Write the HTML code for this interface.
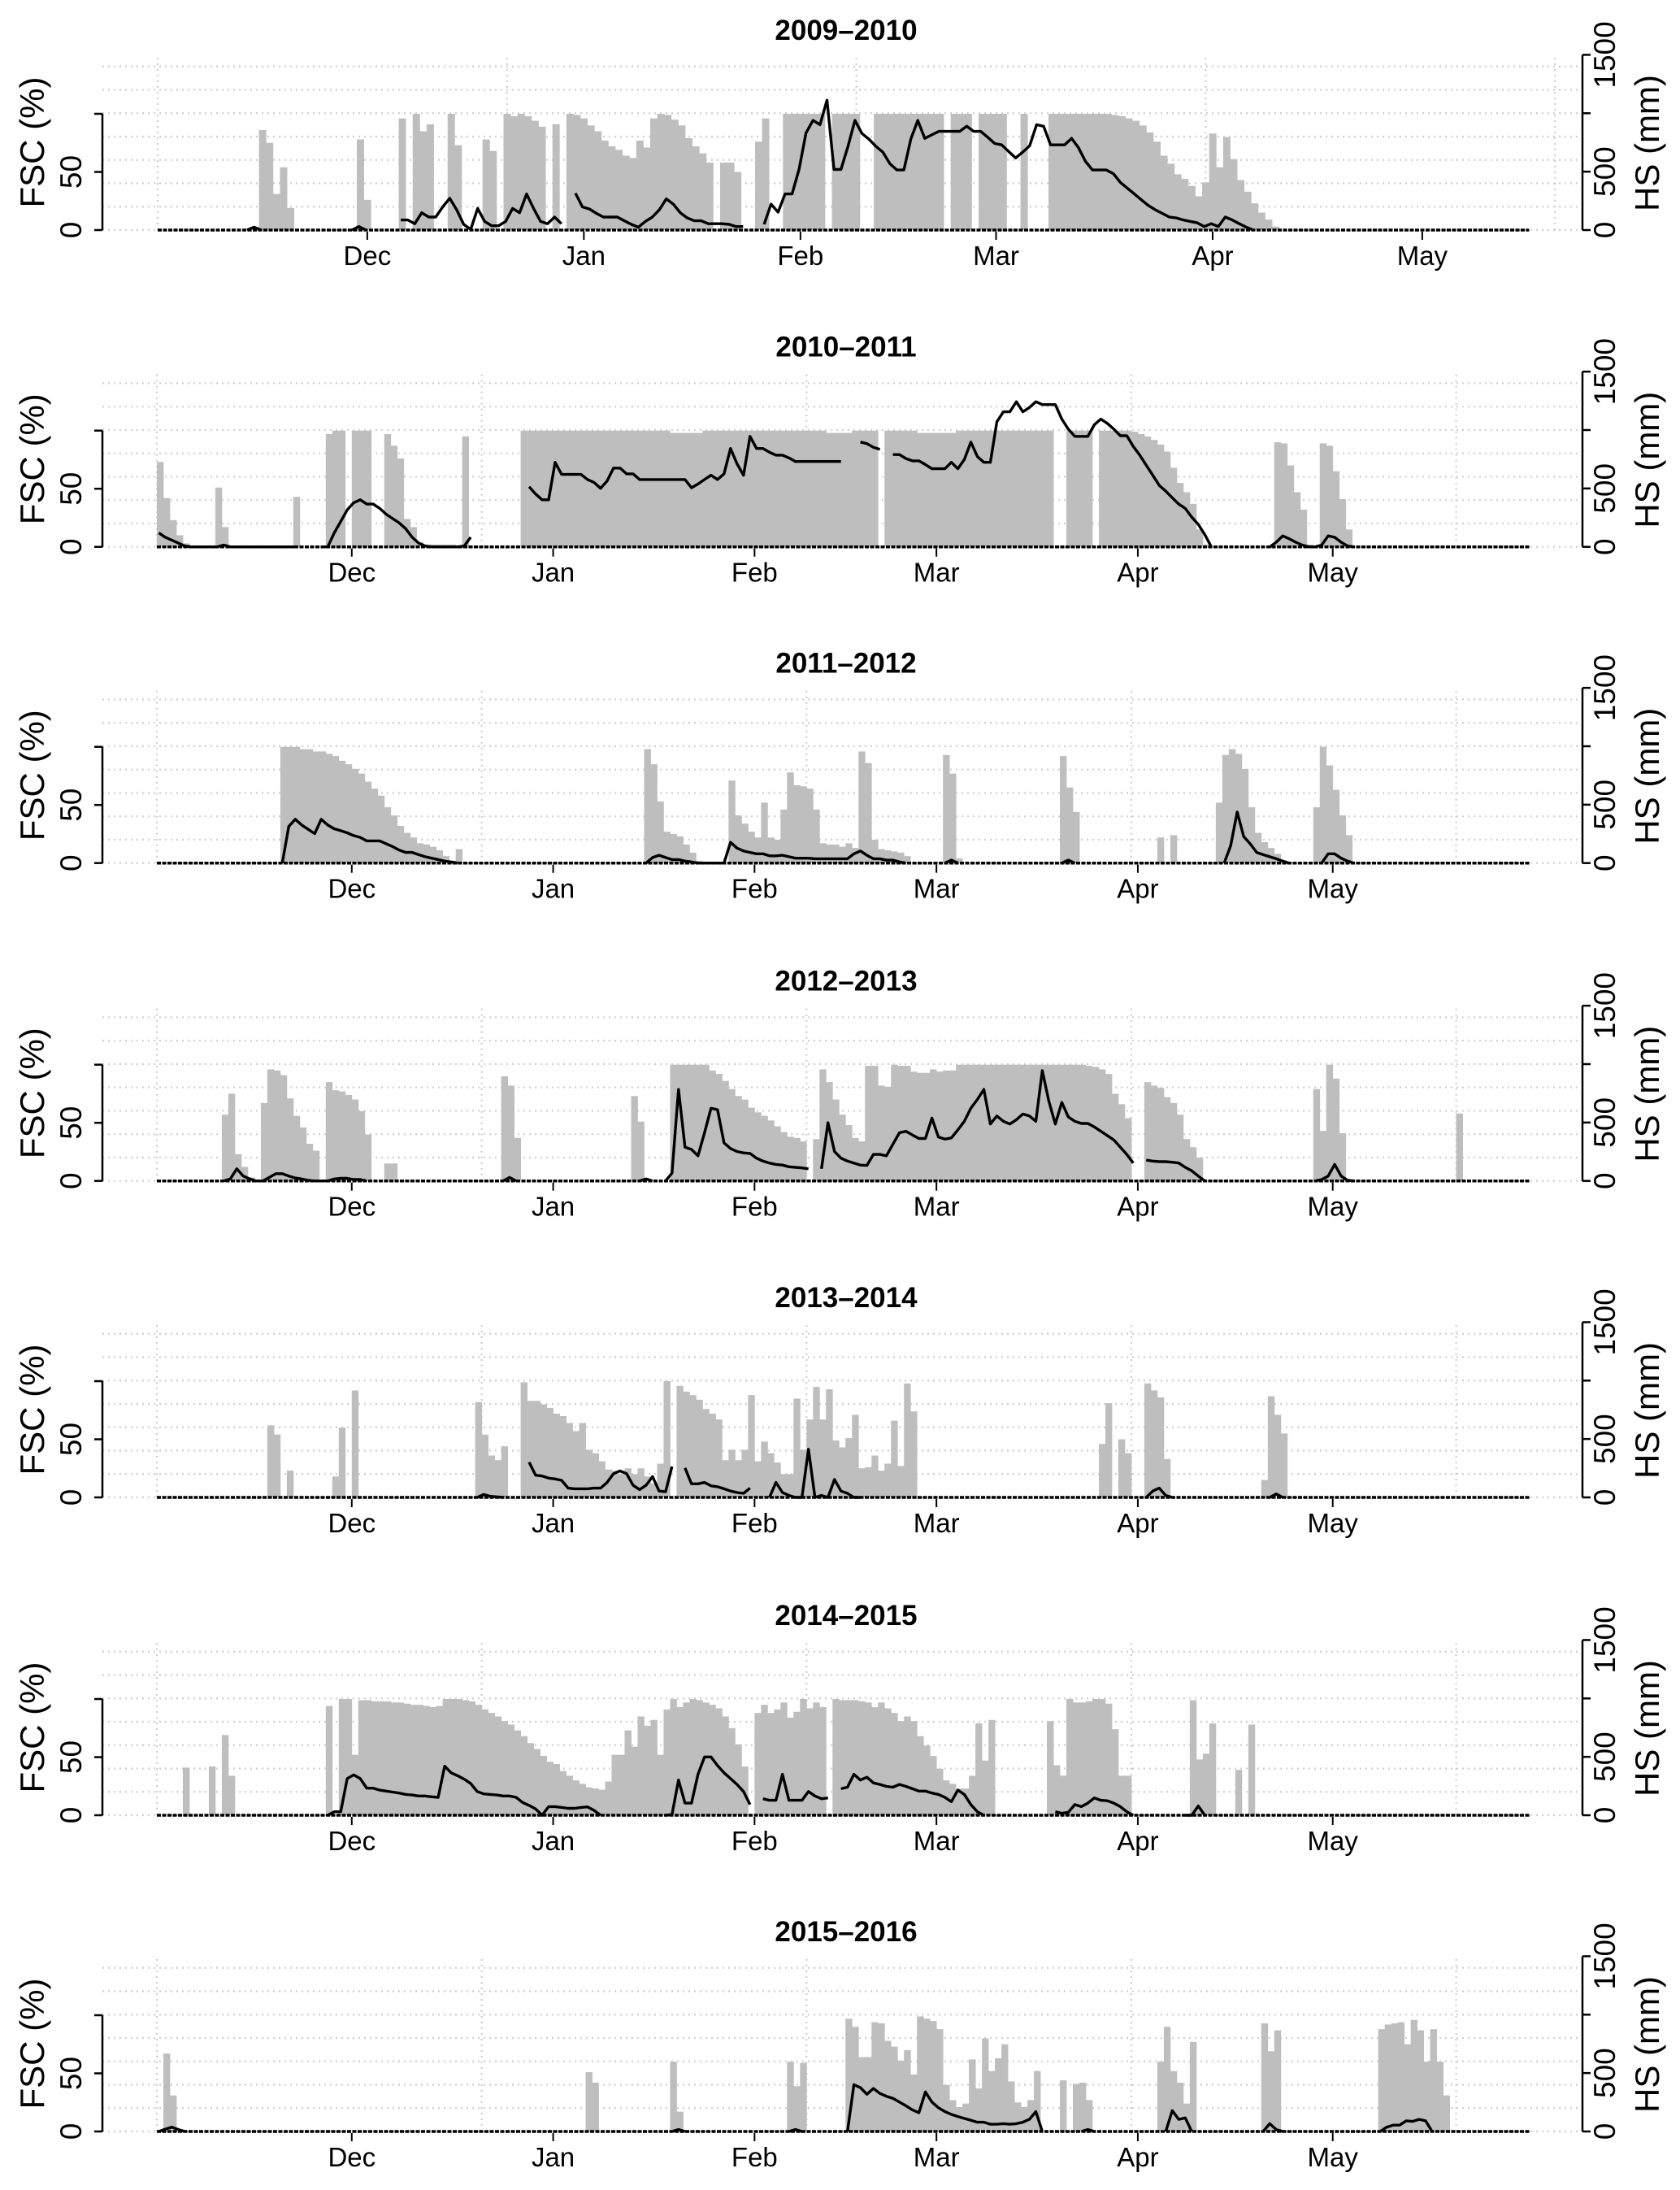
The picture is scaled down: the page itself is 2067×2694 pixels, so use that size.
<!DOCTYPE html>
<html><head><meta charset="utf-8">
<style>
html,body{margin:0;padding:0;background:#fff;}
svg{display:block;font-family:"Liberation Sans",Arial,sans-serif;}
</style></head>
<body>
<svg id="chart" xmlns="http://www.w3.org/2000/svg" width="2067" height="2694" viewBox="0 0 2067 2694"></svg>
<script>
const seasons = ["2009–2010","2010–2011","2011–2012","2012–2013","2013–2014","2014–2015","2015–2016"];
const monthLabels = ["Dec","Jan","Feb","Mar","Apr","May"];
const monthDays = [30,61,92,120,151,181];
const fscTicks = [0,50,100];
const fscTickLabels = ["0","50",""];
const hsTicks = [0,500,1000,1500];
const hsTickLabels = ["0","500","","1500"];

const fsc1 = [[15,[86,75,31,54,19]],[29,[78,26]],[35,[96]],[37,[100,85,91]],[42,[100,73]],[47,[78,68]],[50,[100,98,100,98,94,89]],[57,[91]],
[59,[100,99,96,90,85,77,72,69,64,62,77,71,96,100,99,95,90,79,72,66,58]],[81,[58,58,50]],[86,[76,96]],[90,[100,100,100,100,100,100]],[97,[100,100,100,100]],
[103,[100,100,100,100,100,100,100,100,100,100]],[114,[100,100,100]],[118,[100,100,100,100]],[124,[100]],[128,[100,100,100,100,100,100,100,100,100]],
[137,[99,98,96,94,90,84,76,64,57,48,44,38,29,41,83,54,80,61,43,33,23,15,9,3]]];
const hs1 = [[13,[0,25,0]],[28,[0,30,0]],
[35,[86,86,54,148,111,111,198,272,173,49,5,185,74,37,37,74,185,148,309,185,74,54,111,54]],
[60,[316,198,180,143,111,111,111,79,49,25,74,111,173,267,222,148,104,79,79,54,54,54,49,30,30]],
[87,[49,222,153,309,309,519,832,939,902,1112,519,519,716,939,827,778,716,667,568,514,514,778,939,785,815,845,845,845,845,889,845,845,795,741,729,672,617,667,721,902,889,729,729,729,785,704,588,514,514,514,482,408,358,309,259,210,173,143,111,104,86,74,62,30,54,30,111,86,54,25,0]]];

const fsc2 = [[0,[73,42,23,10,3]],[9,[51,17]],[21,[43]],[26,[97,100,100]],[30,[100,100,100]],[35,[97,87,76,24,17,4,2,2,2,2,2]],[47,[95]],
[56,[100,100,100,100,100,100,100,100,100,100,100,100,100,100,100,100,100,100,100,100,100,100,100,98,98,98,98,98,100,100,100,100]],
[88,[100,100,100,100,100,100,100,100,100,100,100,100,100,100,100,98,98,98,98]],[107,[100,100,100,100]],
[112,[100,100,100,100,100,98,98,98,98,98,98,100,100,100,100,100,100,100,100,100,100,100,100,100,100,100]],
[140,[100,100,100,100]],[145,[100,100,100,100,100,99,97,95,92,88,82,68,55,47,37,15,2]],[172,[90,89,70,47,32,2]],[179,[89,87,65,41,15]]];
const hs2 = [[0,[119,82,57,32,7,0,0,0,0,0,15,0,0,0,0,0,0,0,0,0,0,0]],
[25,[0,0,119,217,316,378,403,366,366,329,279,242,205,156,82,32,7,0,0,0,0,0,7,82]],
[57,[514,452,403,403,724,620,620,620,620,576,551,501,563,674,674,625,625,576,576,576,576,576,576,576,576,506,538,576,613,576,625,842,711,613,946,842,842,810,785,785,761,731,731,731,731,731,731,731,731]],
[108,[897,884,852,835]],
[113,[790,790,756,736,736,704,669,669,669,724,669,748,897,773,724,724,1070,1156,1156,1242,1156,1193,1242,1218,1218,1218,1094,1008,946,946,946,1045,1094,1057,1008,951,951,860,785,699,613,526,477,420,366,329,254,193,106,0]],
[171,[0,40,94,69,40,15,0,0,15,94,82,40,7,0]]];

const fsc3 = [[19,[100,100,100,98,98,96,96,94,92,88,85,81,77,70,64,58,48,41,32,26,22,17,16,14,11,6,2,12]],
[75,[98,85,53,27,25,23,16,9,2]],[88,[71,41,34,27,22,52,22,20,46,78,67,66,64,46,17,16,16,14,17,13,96,86,20,12,11,10,9,6]],
[121,[93,77,4]],[139,[92,65,44]],[154,[22]],[156,[24]],[163,[52,93,98,94,81,48,26,18,13,8]],[178,[48,100,84,63,41,24]]];
const hs3 = [[19,[0,314,375,326,289,252,375,326,294,277,259,235,220,190,190,190,165,141,111,91,91,72,54,42,30,17,10,0]],
[75,[0,47,67,47,30,30,17,10,0,0,0,0,0,178,128,104,91,79,79,62,62,67,54,42,42,42,37,37,37,37,37,37,79,104,67,37,37,25,25,10,0]],
[121,[0,25,0]],[139,[0,25,0]],[164,[0,150,437,227,165,91,72,54,37,17,0]],[179,[0,79,79,42,17,0]]];

const fsc4 = [[10,[57,75,23,12,3]],[16,[67,96,95,91,71,56,46,32,26]],[26,[85,78,77,74,70,60,40]],[35,[15,15]],[53,[90,82,37]],[73,[73,51,2]],
[79,[100,100,100,100,100,100,95,92,86,79,73,70,63,59,56,52,47,42,38,37,34]],
[101,[36,96,85,70,57,48,37,34,99,99,82,81,100,99,99,94,93,93,96,94,95,95,100,100,100,100,100,100,100,100,100,100,100,100,100,100,100,100,100,100,100,100,99,98,96,92,75,66,54]],
[152,[85,82,80,72,67,57,36,29,20]],[178,[79,43,100,88,41]],[200,[58]]];
const hs4 = [[10,[0,17,104,42,17,0,0,30,62,62,42,25,17,5,0,0,0,17,22,22,12,12,0]],[53,[0,30,0]],[74,[0,17,0]],
[78,[0,67,783,289,269,215,412,622,610,326,277,252,240,235,195,170,153,141,136,121,116,111,104]],
[102,[104,498,252,195,170,153,136,133,227,227,215,314,412,425,393,363,363,538,375,358,368,437,511,622,697,783,487,556,511,487,524,573,556,511,944,684,487,672,548,511,492,492,462,425,388,351,289,227,153]],
[152,[178,170,165,165,160,153,116,86,42,0]],[178,[0,12,42,141,42,5,0]]];

const fsc5 = [[17,[62,54]],[20,[23]],[27,[18,60]],[30,[92]],[49,[82,54,36,32,44]],
[56,[99,83,83,80,77,72,70,64,57,64,41,38,31,24,23,20,25,20,25,18,12,29,100]],
[80,[96,91,88,84,76,72,67,32,41,32,41,88,31,48,38,30,20,20,85,41,67,95,67,93,49,43,51,71,25,26,36,23,29,66,27,98,74]],
[145,[46,81]],[148,[50,38]],[152,[98,92,86,33]],[170,[15,87,71,55]]];
const hs5 = [[49,[0,25,10,5,0]],[57,[301,190,183,165,158,146,79,74,74,74,79,79,128,203,227,203,104,67,104,178,54,49,264]],
[81,[252,116,116,128,99,91,74,54,42,35,79]],[94,[0,128,42,17,0,0,412,0,17,0,153,54,35,0,0]],[152,[0,54,79,17,0]],[171,[0,30,0]]];

const fsc6 = [[4,[41]],[8,[42]],[10,[69,34]],[26,[94]],
[28,[100,100,52,99,99,98,98,98,97,97,96,95,95,94,93,94,100,100,100,99,98,95,91,88,85,81,78,73,68,62,57,51,46,44,38,34,30,27,24,23,22,29,52,52,73,59,85,77]],
[76,[82,52,91,100,93,97,100,99,97,95,92,85,75,61,42]],[92,[88,95,88,91,97,84,89,100,92,97,93]],
[104,[100,99,99,99,98,97,93,97,92,88,81,85,81,68,60,51,40,30,27,23,23,34,79,47,82]],
[137,[81,43,34,100,97,97,98,100,100,96,74,34,34]],[159,[99,48,53,79]],[166,[39]],[168,[78]]];
const hs6 = [[26,[0,30,30,314,346,314,232,232,215,207,198,190,178,173,165,165,158,153,420,363,338,309,272,203,183,178,173,165,165,153,109,84,54,0,74,74,67,59,59,67,72,42,0]],
[78,[0,5,301,104,104,351,499,499,425,363,314,264,203,91]],[93,[141,128,128,351,128,128,128,203,165,141,148]],
[105,[227,240,351,301,326,277,264,247,240,264,247,227,207,207,190,178,153,116,215,178,91,30,0]],
[138,[30,17,25,91,74,104,148,128,124,104,74,30,0]],[158,[0,0,79,0]]];

const fsc7 = [[1,[67,31]],[66,[51,42]],[79,[60,17]],[97,[60,39,59]],
[106,[97,90,64,64,94,93,78,73,61,70,49,99,97,95,88,40,27,21,24,62,37,80,52,63,75,43,25,21,27,52]],
[139,[44]],[141,[41,42,27]],[154,[60,90,52,42,24,77]],[170,[93,69,87]],[188,[88,92,93,94,75,96,87,60,88,60,31]]];
const hs7 = [[0,[0,20,37,17,0]],[79,[0,17,0]],[97,[0,17,0]],
[106,[0,400,375,319,368,326,301,284,252,220,185,161,338,252,203,170,146,128,111,96,79,79,62,62,67,62,67,79,104,170,0]],
[142,[0,17,0]],[155,[0,178,104,116,0]],[170,[0,67,17,0]],[188,[0,37,54,54,91,86,104,91,0]]];

const fscData = [fsc1,fsc2,fsc3,fsc4,fsc5,fsc6,fsc7];
const hsData = [hs1,hs2,hs3,hs4,hs5,hs6,hs7];

const NS = "http://www.w3.org/2000/svg";
const svg = document.getElementById("chart");
function mk(tag, attrs, parent){const e=document.createElementNS(NS,tag);for(const k in attrs)e.setAttribute(k,attrs[k]);(parent||svg).appendChild(e);return e;}

const zeros = [283,672.7,1061.7,1452.7,1842,2233,2622];
const FSC_PX = 1.43, HS_PX = 0.1437, GRID = 28.75;
const AXL = 126, AXR = 1947;

for(let p=0;p<7;p++){
  const z = zeros[p];
  const x0 = p===0 ? 194 : 193;
  const dpx = p===0 ? 8.596 : 7.993;
  const endDay = p===0 ? 196.3 : 211.4;
  const shift = p===0 ? -0.5 : 0;
  const X = d => x0 + d*dpx;
  const YF = v => z - v*FSC_PX;
  const YH = v => z - v*HS_PX;
  const g = mk("g",{});
  
  

  for(let k=0;k<=7;k++){
    const gl = mk("line",{x1:AXL,x2:AXR,y1:z-k*GRID,y2:z-k*GRID,stroke:"#cfcfcf","stroke-width":2.2,"stroke-dasharray":"2 5"},g);
    
    
  }
  for(let d=0; X(d)<1930; d+=50){
    const vl = mk("line",{x1:X(d),x2:X(d),y1:z-212,y2:z,stroke:"#cfcfcf","stroke-width":2.2,"stroke-dasharray":"2 5"},g);
    
    
  }
  fscData[p].forEach(seg=>{
    seg[1].forEach((v,i)=>{
      const d = seg[0]+i+shift;
      const r = mk("rect",{x:X(d),y:YF(v),width:dpx+0.4,height:v*FSC_PX,fill:"#bebebe"},g);
      
      
    });
  });
  const bl = mk("line",{x1:X(0),x2:X(endDay),y1:z,y2:z,stroke:"#000","stroke-width":3.5,"stroke-dasharray":"5 1.5"},g);
  
  
  hsData[p].forEach(seg=>{
    const pts = seg[1].map((v,i)=>X(seg[0]+i+0.3+shift).toFixed(1)+","+YH(v).toFixed(1)).join(" ");
    const pl = mk("polyline",{points:pts,fill:"none",stroke:"#000","stroke-width":3.4,"stroke-linejoin":"round"},g);
    
    
  });
  const t = mk("text",{x:1041,y:z-234,"text-anchor":"middle","font-size":35,"font-weight":"bold"},g);
  t.textContent = seasons[p];
  
  
  monthDays.forEach((md,i)=>{
    const tk = mk("line",{x1:X(md),x2:X(md),y1:z+2,y2:z+12,stroke:"#000","stroke-width":2},g);
    
    
    const ml = mk("text",{x:X(md),y:z+43,"text-anchor":"middle","font-size":33},g);
    ml.textContent = monthLabels[i];
    
    
  });
  const la = mk("line",{x1:AXL,x2:AXL,y1:YF(100),y2:z,stroke:"#000","stroke-width":2.5},g);
  
  
  fscTicks.forEach((v,i)=>{
    const tk = mk("line",{x1:AXL-10,x2:AXL,y1:YF(v),y2:YF(v),stroke:"#000","stroke-width":2.5},g);
    
    
    if(fscTickLabels[i]){
      const tl = mk("text",{x:0,y:0,"text-anchor":"middle","font-size":37,transform:`translate(100,${YF(v)}) rotate(-90)`},g);
      tl.textContent = fscTickLabels[i];
      
      
    }
  });
  const lt = mk("text",{x:0,y:0,"text-anchor":"middle","font-size":42,transform:`translate(54,${z-108}) rotate(-90)`},g);
  lt.textContent = "FSC (%)";
  
  
  const ra = mk("line",{x1:AXR,x2:AXR,y1:YH(1500),y2:z,stroke:"#000","stroke-width":2.5},g);
  
  
  hsTicks.forEach((v,i)=>{
    const tk = mk("line",{x1:AXR,x2:AXR+10,y1:YH(v),y2:YH(v),stroke:"#000","stroke-width":2.5},g);
    
    
    if(hsTickLabels[i]){
      const tl = mk("text",{x:0,y:0,"text-anchor":"middle","font-size":37,transform:`translate(1987,${YH(v)}) rotate(-90)`},g);
      tl.textContent = hsTickLabels[i];
      
      
    }
  });
  const rt = mk("text",{x:0,y:0,"text-anchor":"middle","font-size":42,transform:`translate(2041,${z-107}) rotate(-90)`},g);
  rt.textContent = "HS (mm)";
  
  
}
</script>
</body></html>
